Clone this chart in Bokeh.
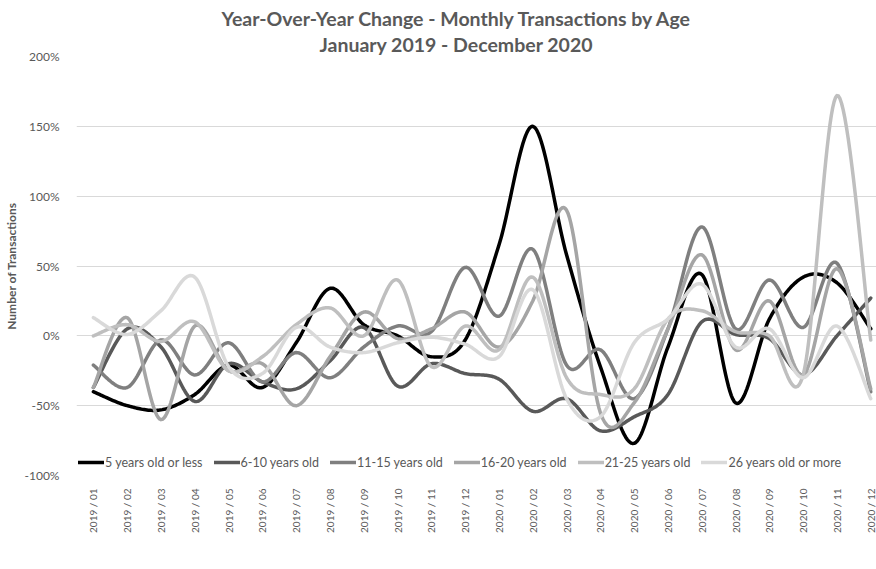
import numpy as np
from bokeh.plotting import figure
from bokeh.models import (Range1d, FixedTicker, Legend, LegendItem, Title)
from bokeh.embed import file_html
from bokeh.resources import INLINE

months = ["2019 / 01", "2019 / 02", "2019 / 03", "2019 / 04", "2019 / 05", "2019 / 06",
          "2019 / 07", "2019 / 08", "2019 / 09", "2019 / 10", "2019 / 11", "2019 / 12",
          "2020 / 01", "2020 / 02", "2020 / 03", "2020 / 04", "2020 / 05", "2020 / 06",
          "2020 / 07", "2020 / 08", "2020 / 09", "2020 / 10", "2020 / 11", "2020 / 12"]

series_names = ["5 years old or less", "6-10 years old", "11-15 years old",
                "16-20 years old", "21-25 years old", "26 years old or more"]

age_0_5 = [-40, -50, -53, -42, -21, -37, -5, 34, 8, 0, -15, -3,
           65, 150, 58, -22, -77, -8, 44, -48, 12, 42, 38, 5]
age_6_10 = [-37, 5, -8, -47, -20, -33, -38, -18, 6, -36, -20, -27,
            -31, -54, -45, -68, -58, -42, 10, 1, -2, -28, 0, 27]
age_11_15 = [-21, -37, -3, -28, -5, -33, -12, -30, -8, 7, 3, 49,
             14, 62, -21, -10, -45, 5, 78, 5, 40, 6, 52, -40]
age_16_20 = [-37, 13, -60, 7, -25, -20, -50, -15, 17, -2, 5, 17,
             -8, 25, 90, -55, -48, 5, 58, -10, 25, -28, 48, -38]
age_21_25 = [0, 8, -4, 10, -25, -15, 8, 20, 0, 40, -22, 7,
             -10, 42, -30, -42, -38, 12, 18, 3, 0, -28, 172, -3]
age_26_up = [13, 1, 18, 42, -22, -27, 6, -8, -12, -5, -1, -6,
             -15, 33, -45, -58, -5, 12, 37, -8, 5, -30, 7, -45]

y_ticks = [-100, -50, 0, 50, 100, 150, 200]

series_values = [age_0_5, age_6_10, age_11_15, age_16_20, age_21_25, age_26_up]
colors = ["#000000", "#595959", "#7f7f7f", "#a5a5a5", "#bfbfbf", "#d9d9d9"]

FONT = "Lato"
TXT = "#595959"


def smooth(xs, ys, n=24):
    """Excel-like smoothed line: Catmull-Rom segments as cubic Beziers."""
    px, py = [], []
    N = len(xs)
    for i in range(N - 1):
        i0, i3 = max(i - 1, 0), min(i + 2, N - 1)
        x0, y0 = xs[i0], ys[i0]
        x1, y1 = xs[i], ys[i]
        x2, y2 = xs[i + 1], ys[i + 1]
        x3, y3 = xs[i3], ys[i3]
        c1x, c1y = x1 + (x2 - x0) / 6.0, y1 + (y2 - y0) / 6.0
        c2x, c2y = x2 - (x3 - x1) / 6.0, y2 - (y3 - y1) / 6.0
        t = np.linspace(0, 1, n, endpoint=(i == N - 2))
        a, b, c, d = (1 - t) ** 3, 3 * (1 - t) ** 2 * t, 3 * (1 - t) * t ** 2, t ** 3
        px.extend(a * x1 + b * c1x + c * c2x + d * x2)
        py.extend(a * y1 + b * c1y + c * c2y + d * y2)
    return px, py


p = figure(frame_width=801, frame_height=419, output_backend="svg", toolbar_location=None,
           x_range=Range1d(-0.5, 23.2), y_range=Range1d(-100, 200),
           min_border_left=67, min_border_right=0, min_border_top=56,
           min_border_bottom=85)
p.outline_line_color = None
p.background_fill_color = "white"
p.border_fill_color = "white"

xs = list(range(len(months)))
items = []
for name, vals, col in zip(series_names, series_values, colors):
    sx, sy = smooth(xs, vals)
    r = p.line(sx, sy, line_color=col, line_width=3.5, line_join="round", line_cap="round")
    items.append(LegendItem(label=name, renderers=[r]))

# axes
p.xaxis.ticker = FixedTicker(ticks=xs)
p.xaxis.major_label_overrides = {i: m for i, m in enumerate(months)}
p.xaxis.major_label_orientation = np.pi / 2
p.xaxis.axis_line_color = None
p.xaxis.major_tick_line_color = None
p.xaxis.minor_tick_line_color = None
p.xaxis.major_label_standoff = 7
p.xaxis.major_label_text_font = FONT
p.xaxis.major_label_text_font_size = "10px"
p.xaxis.major_label_text_color = TXT

p.yaxis.ticker = FixedTicker(ticks=y_ticks)
p.yaxis.major_label_overrides = {t: f"{t}%" for t in y_ticks}
p.yaxis.axis_line_color = None
p.yaxis.major_tick_line_color = None
p.yaxis.minor_tick_line_color = None
p.yaxis.major_label_standoff = 11
p.yaxis.major_label_text_font = FONT
p.yaxis.major_label_text_font_size = "12px"
p.yaxis.major_label_text_color = TXT
p.yaxis.axis_label = "Number of Transactions"
p.yaxis.axis_label_text_font = FONT
p.yaxis.axis_label_text_font_size = "12px"
p.yaxis.axis_label_text_font_style = "bold"
p.yaxis.axis_label_text_color = TXT
p.yaxis.axis_label_standoff = 3

p.xgrid.grid_line_color = None
p.ygrid.grid_line_color = "#d9d9d9"
p.ygrid.grid_line_width = 1

# two-line title (second line added first: it sits nearest the plot)
p.add_layout(Title(text="January 2019 - December 2020", align="left", offset=243,
                   standoff=2, text_font=FONT, text_font_size="19.5px",
                   text_font_style="bold", text_color=TXT), "above")
p.add_layout(Title(text="Year-Over-Year Change - Monthly Transactions by Age",
                   align="left", offset=145, standoff=0, text_font=FONT,
                   text_font_size="19.5px", text_font_style="bold", text_color=TXT), "above")

legend = Legend(items=items, orientation="horizontal", location=(2, 3),
                glyph_width=26, glyph_height=20, label_height=20, label_standoff=1,
                spacing=11, padding=0, margin=0, border_line_color=None,
                background_fill_alpha=0, label_text_font=FONT,
                label_text_font_size="12.5px", label_text_color=TXT)
p.add_layout(legend, "center")

open("out.html", "w").write(file_html(p, INLINE))
